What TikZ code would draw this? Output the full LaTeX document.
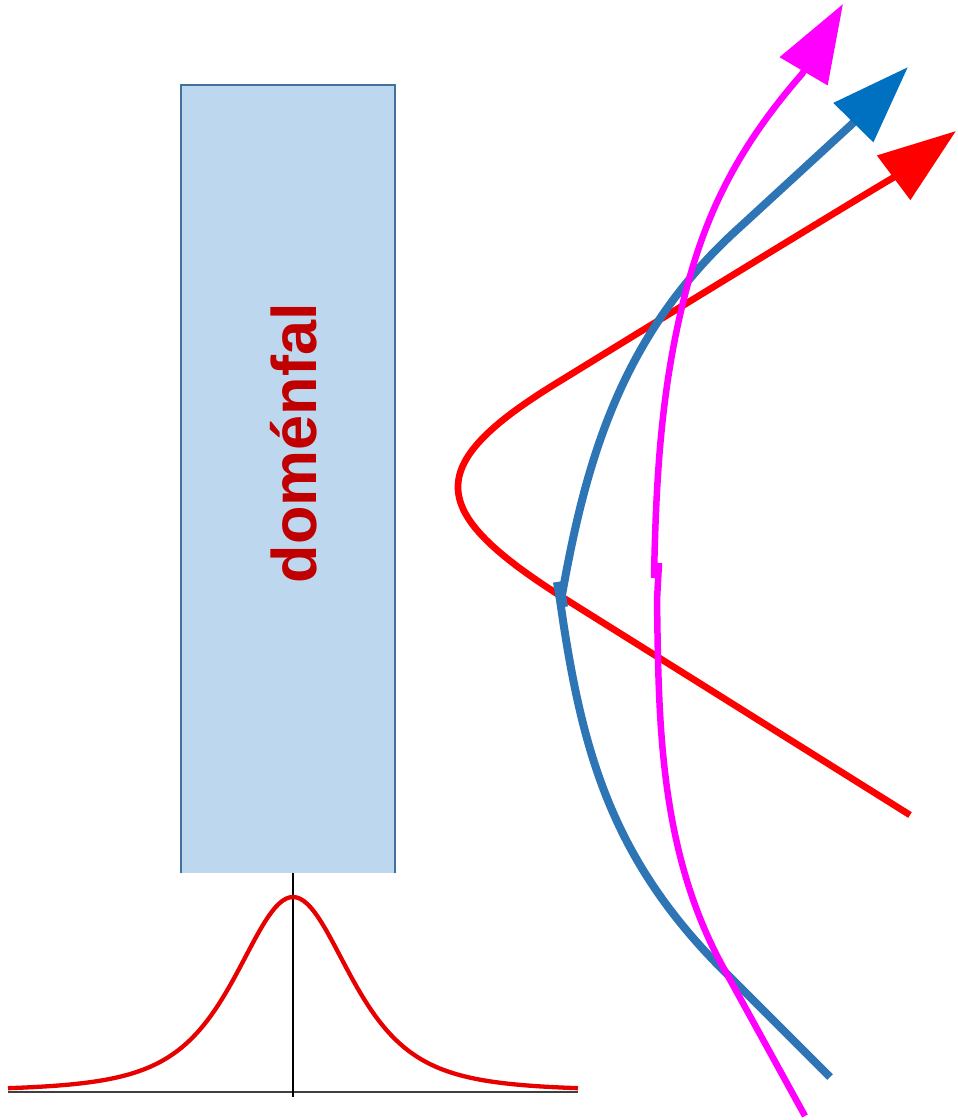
\documentclass[tikz,border=0pt]{standalone}
\usepackage{fontspec}
\setmainfont{Liberation Sans}
\usetikzlibrary{arrows.meta}
\definecolor{boxfill}{HTML}{BDD7EE}
\definecolor{boxline}{HTML}{41719C}
\definecolor{labelred}{HTML}{C00000}
\definecolor{bellred}{HTML}{E60000}
\definecolor{axisgray}{HTML}{404040}
\definecolor{bline}{HTML}{2E75B6}
\definecolor{bhead}{HTML}{0070C0}
\definecolor{rline}{HTML}{FF0000}
\definecolor{mline}{HTML}{FF00FF}
\tikzset{
  bigtip/.style={-{Triangle[length=78pt,width=54pt,color=#1]}},
  redray/.style={draw=rline, line width=6.7pt, bigtip=rline},
  blueray/.style={draw=bline, line width=8pt},
  magray/.style={draw=mline, line width=6.5pt},
}
\begin{document}
\begin{tikzpicture}[x=1pt,y=-1pt]
\useasboundingbox (0,0) rectangle (958,1120);
% box
\coordinate (bl) at (181,873);
\coordinate (tl) at (181,85);
\coordinate (tr) at (395,85);
\coordinate (br) at (395,873);
\fill[boxfill] (tl) rectangle (br);
\draw[boxline, line width=2.3pt] (bl) -- (tl) -- (tr) -- (br);
\node[rotate=90, anchor=base, text=labelred, inner sep=0pt,
      font=\fontsize{63}{63}\selectfont\bfseries] (lbl) at (316,443) {doménfal};
% axes
\coordinate (axl) at (8,1092);
\coordinate (axr) at (578,1092);
\coordinate (vt) at (293,873);
\coordinate (vb) at (293,1097);
\draw[axisgray, line width=2.3pt] (axl) -- (axr);
\draw[black, line width=1.3pt] (vt) -- (vb);
% bell curve
\draw[bellred, line width=4.3pt, line join=round]
  plot[domain=-285:285, samples=161]
  ({293+\x}, {1091 - 194/((1+(\x/105.6)*(\x/105.6))*(1+(\x/105.6)*(\x/105.6)))});
% red hyperbola-like ray
\coordinate (r0) at (910,815);
\coordinate (r1) at (570,602);
\coordinate (r2) at (560,381);
\coordinate (rtip) at (956,131);
\draw[redray] (r0) -- (r1) .. controls (427.5,512.8) and (417.5,467.5) .. (r2)
  .. controls (760,258) and (900,173) .. (rtip);
% blue ray (two pieces)
\coordinate (b0) at (830,1077);
\coordinate (b1) at (723,970);
\coordinate (b2) at (560,600);
\coordinate (b3) at (557,582);
\coordinate (b4) at (564,607);
\coordinate (b5) at (562,595);
\coordinate (b6) at (740,227);
\coordinate (b7) at (851,125);
\coordinate (btip) at (908,67);
\draw[blueray] (b0) -- (b1) .. controls (610,857) and (581,748) .. (b2) -- (b3);
\draw[blueray, bigtip=bhead] (b4) -- (b5) .. controls (586.2,459) and (622,332.9) .. (b6) -- (b7) -- (btip);
% magenta ray (two pieces)
\coordinate (m0) at (805,1116);
\coordinate (m1) at (723,967);
\coordinate (m2) at (657,600);
\coordinate (m3) at (659,563);
\coordinate (m4) at (654,578);
\coordinate (m5) at (687,287);
\coordinate (m6) at (802,74);
\coordinate (mtip) at (843,4);
\draw[magray] (m0) -- (m1) .. controls (658.2,848.6) and (658.8,718) .. (m2) -- (m3);
\draw[magray, bigtip=mline] (m4) .. controls (656,478) and (661,384) .. (m5)
  .. controls (706.8,212.9) and (737.2,148.1) .. (m6) -- (mtip);
\end{tikzpicture}
\end{document}
